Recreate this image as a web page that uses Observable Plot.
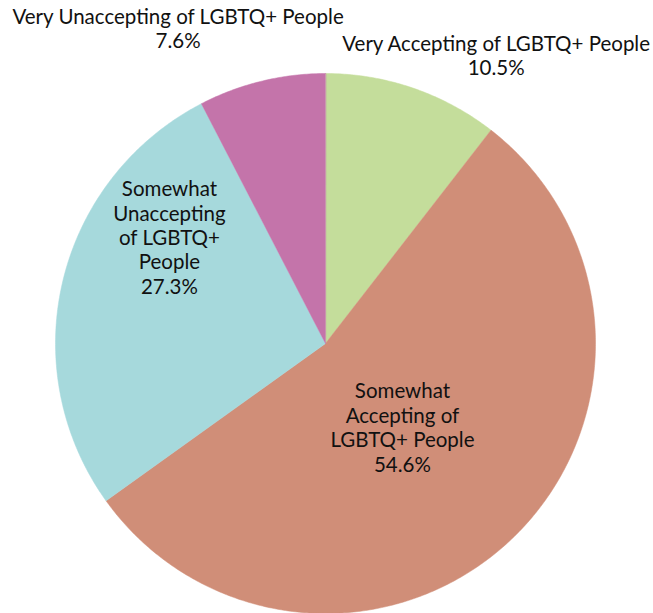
<!DOCTYPE html>
<html>
<head>
<meta charset="utf-8">
<script src="https://cdn.jsdelivr.net/npm/d3@7"></script>
<script src="https://cdn.jsdelivr.net/npm/@observablehq/plot@0.6"></script>
<style>
  html, body { margin: 0; padding: 0; background: #fff; }
  #chart svg { display: block; }
</style>
</head>
<body>
<div id="chart"></div>
<script>
// Data
const categories = [
  "Very Accepting of LGBTQ+ People",
  "Somewhat Accepting of LGBTQ+ People",
  "Somewhat Unaccepting of LGBTQ+ People",
  "Very Unaccepting of LGBTQ+ People"
];
const shares = [10.5, 54.6, 27.3, 7.6];
const labelTexts = [
  "Very Accepting of LGBTQ+ People\n10.5%",
  "Somewhat\nAccepting of\nLGBTQ+ People\n54.6%",
  "Somewhat\nUnaccepting\nof LGBTQ+\nPeople\n27.3%",
  "Very Unaccepting of LGBTQ+ People\n7.6%"
];
const colors = ["#c4dd9b", "#d08e78", "#a6d9dc", "#c474aa"];

// Layout: label anchors in pie units (radius = 1, y downward)
const labelAnchors = [[0.632, -1.068], [0.285, 0.31], [-0.578, -0.394], [-0.546, -1.168]];

// Build slice polygons (clockwise from 12 o'clock)
const total = d3.sum(shares);
let acc = 0;
const slices = shares.map((v, i) => {
  const a0 = acc / total * 2 * Math.PI;
  acc += v;
  const a1 = acc / total * 2 * Math.PI;
  const ring = [[0, 0]];
  const n = Math.max(2, Math.ceil((a1 - a0) / (Math.PI / 360)));
  for (let k = 0; k <= n; k++) {
    const a = a0 + (a1 - a0) * k / n;
    ring.push([Math.sin(a), -Math.cos(a)]);
  }
  ring.push([0, 0]);
  return {type: "Feature", properties: {name: categories[i], color: colors[i]}, geometry: {type: "Polygon", coordinates: [ring]}};
});
const labels = labelTexts.map((t, i) => ({text: t, x: labelAnchors[i][0], y: labelAnchors[i][1]}));

const chart = Plot.plot({
  width: 653,
  height: 613,
  marginLeft: 55,
  marginRight: 58,
  marginTop: 73,
  marginBottom: 0,
  style: {fontFamily: "Lato, sans-serif", background: "#fff"},
  projection: {
    type: "identity",
    inset: 0,
    clip: false,
    domain: {type: "Polygon", coordinates: [[[-1, -1], [-1, 1], [1, 1], [1, -1], [-1, -1]]]}
  },
  marks: [
    Plot.geo(slices, {fill: d => d.properties.color, stroke: d => d.properties.color, strokeWidth: 0.5}),
    Plot.text(labels, {x: "x", y: "y", text: "text", fontSize: 20.5, lineHeight: 1.19, fill: "#111", textAnchor: "middle", lineAnchor: "middle", clip: false})
  ]
});
document.getElementById("chart").appendChild(chart);
</script>
</body>
</html>
